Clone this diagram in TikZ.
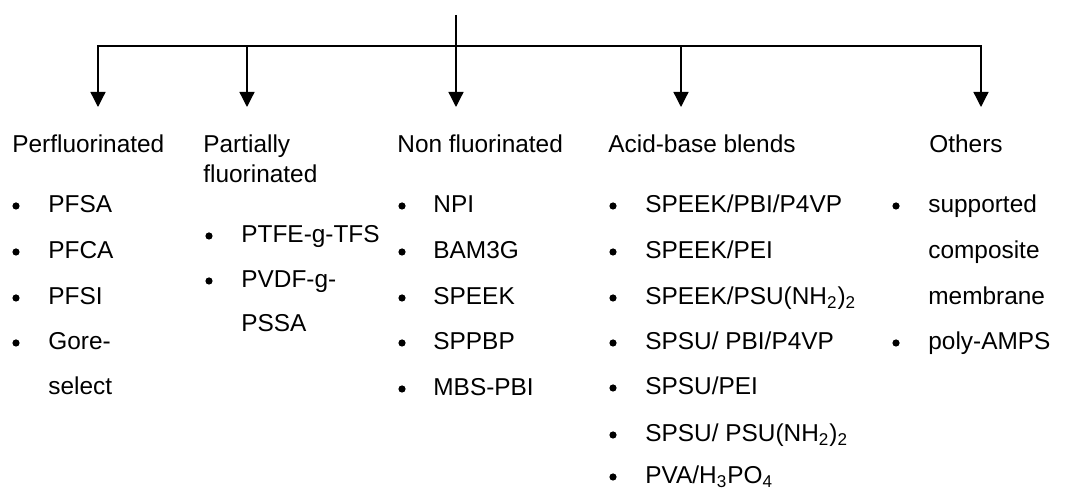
\documentclass[tikz,border=0pt]{standalone}
\usepackage{fontspec}
\setmainfont{Liberation Sans}
\usetikzlibrary{arrows.meta}
\newcommand{\lcol}{black}
\newcommand{\taille}{\fontsize{12.2}{14}\selectfont}
\tikzset{
  texte/.style={anchor=base west, inner sep=0pt, font=\taille},
  puce/.style={circle, fill=\lcol, inner sep=0pt, minimum size=3.6pt, yshift=3.5pt},
  fleche/.style={draw=\lcol, line width=0.65pt, -{Triangle[length=7.5pt,width=7.5pt]}}
}

\begin{document}
\begin{tikzpicture}[x=0.5pt, y=-0.5pt]
    \useasboundingbox (0, 0) rectangle (1067, 491);

    \coordinate (haut) at (456, 15);
    \coordinate (noeud) at (456, 46);
    \coordinate (f1) at (98, 107);
    \coordinate (f2) at (247, 107);
    \coordinate (f3) at (456, 107);
    \coordinate (f4) at (681, 107);
    \coordinate (f5) at (981, 107);

    \draw[draw=\lcol, line width=0.65pt] (haut) -- (noeud);
    \draw[fleche] (noeud) -| (f1);
    \draw[fleche] (noeud) -| (f2);
    \draw[fleche] (noeud) -- (f3);
    \draw[fleche] (noeud) -| (f4);
    \draw[fleche] (noeud) -| (f5);

    % titres
    \node[texte] (t1) at (12, 153) {Perfluorinated};
    \node[texte] (t2) at (203, 153) {Partially};
    \node[texte] (t2b) at (203, 183) {fluorinated};
    \node[texte] (t3) at (397, 153) {Non fluorinated};
    \node[texte] (t4) at (608, 153) {Acid-base blends};
    \node[texte] (t5) at (929, 153) {Others};

    % perfluores
    \node[puce] (p11) at (16, 213) {};
    \node[puce] (p12) at (16, 259) {};
    \node[puce] (p13) at (16, 305) {};
    \node[puce] (p14) at (16, 350) {};
    \node[texte] (a11) at (48, 213) {PFSA};
    \node[texte] (a12) at (48, 259) {PFCA};
    \node[texte] (a13) at (48, 305) {PFSI};
    \node[texte] (a14) at (48, 350) {Gore-};
    \node[texte] (a15) at (48, 395) {select};

    % partiellement fluores
    \node[puce] (p21) at (209, 243) {};
    \node[puce] (p22) at (209, 288) {};
    \node[texte] (a21) at (241, 243) {PTFE-g-TFS};
    \node[texte] (a22) at (241, 288) {PVDF-g-};
    \node[texte] (a23) at (241, 332) {PSSA};

    % non fluores
    \node[puce] (p31) at (402, 213) {};
    \node[puce] (p32) at (402, 259) {};
    \node[puce] (p33) at (402, 305) {};
    \node[puce] (p34) at (402, 350) {};
    \node[puce] (p35) at (402, 396) {};
    \node[texte] (a31) at (433, 213) {NPI};
    \node[texte] (a32) at (433, 259) {BAM3G};
    \node[texte] (a33) at (433, 305) {SPEEK};
    \node[texte] (a34) at (433, 350) {SPPBP};
    \node[texte] (a35) at (433, 396) {MBS-PBI};

    % melanges acide-base
    \node[puce] (p41) at (613, 213) {};
    \node[puce] (p42) at (613, 259) {};
    \node[puce] (p43) at (613, 305) {};
    \node[puce] (p44) at (613, 350) {};
    \node[puce] (p45) at (613, 395) {};
    \node[puce] (p46) at (613, 442) {};
    \node[puce] (p47) at (613, 484) {};
    \node[texte] (a41) at (645, 213) {SPEEK/PBI/P4VP};
    \node[texte] (a42) at (645, 259) {SPEEK/PEI};
    \node[texte] (a43) at (645, 305) {SPEEK/PSU(NH\textsubscript{2})\textsubscript{2}};
    \node[texte] (a44) at (645, 350) {SPSU/ PBI/P4VP};
    \node[texte] (a45) at (645, 395) {SPSU/PEI};
    \node[texte] (a46) at (645, 442) {SPSU/ PSU(NH\textsubscript{2})\textsubscript{2}};
    \node[texte] (a47) at (645, 484) {PVA/H\textsubscript{3}PO\textsubscript{4}};

    % autres
    \node[puce] (p51) at (896, 213) {};
    \node[puce] (p52) at (896, 350) {};
    \node[texte] (a51) at (928, 213) {supported};
    \node[texte] (a52) at (928, 259) {composite};
    \node[texte] (a53) at (928, 305) {membrane};
    \node[texte] (a54) at (928, 350) {poly-AMPS};

\end{tikzpicture}
\end{document}
